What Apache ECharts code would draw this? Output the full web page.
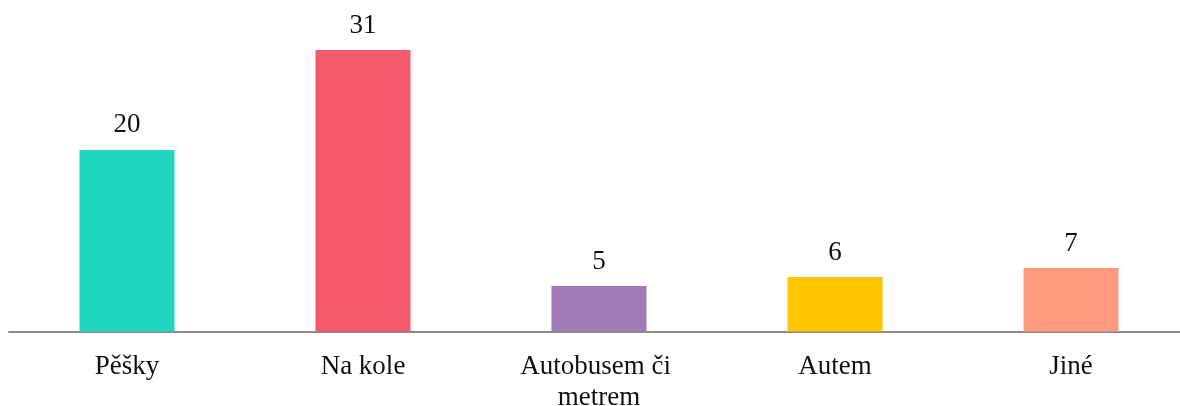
<!DOCTYPE html>
<html>
<head>
<meta charset="utf-8">
<script src="https://cdn.jsdelivr.net/npm/echarts@6/dist/echarts.min.js"></script>
<style>html,body{margin:0;padding:0;background:#fff}#c{width:1180px;height:406px}</style>
</head>
<body>
<div id="c"></div>
<script>
const categories = ['Pěšky', 'Na kole', 'Autobusem či metrem', 'Autem', 'Jiné'];
const values = [20, 31, 5, 6, 7];
const colors = ['#21D7C2', '#F55A6E', '#A07BB7', '#FFC500', '#FF9A7E'];

const chart = echarts.init(document.getElementById('c'));
chart.setOption({
  animation: false,
  backgroundColor: '#fff',
  grid: { left: 9, top: 13.7, width: 1180, bottom: 74.5, containLabel: false, outerBoundsMode: 'none' },
  xAxis: {
    type: 'category',
    data: categories,
    axisTick: { show: false },
    axisLine: { lineStyle: { color: '#8a8a8a', width: 2 } },
    axisLabel: {
      interval: 0,
      margin: 20,
      color: '#111',
      fontFamily: 'Liberation Serif, Times New Roman, serif',
      fontSize: 27,
      lineHeight: 31,
      width: 200,
      overflow: 'break'
    }
  },
  yAxis: { type: 'value', min: 0, max: 35, show: false, splitLine: { show: false } },
  series: [{
    type: 'bar',
    barWidth: 95,
    data: values.map((v, i) => ({ value: v, itemStyle: { color: colors[i] } })),
    label: {
      show: true,
      position: 'top',
      distance: 11,
      color: '#111',
      fontFamily: 'Liberation Serif, Times New Roman, serif',
      fontSize: 27
    }
  }]
});
</script>
</body>
</html>
